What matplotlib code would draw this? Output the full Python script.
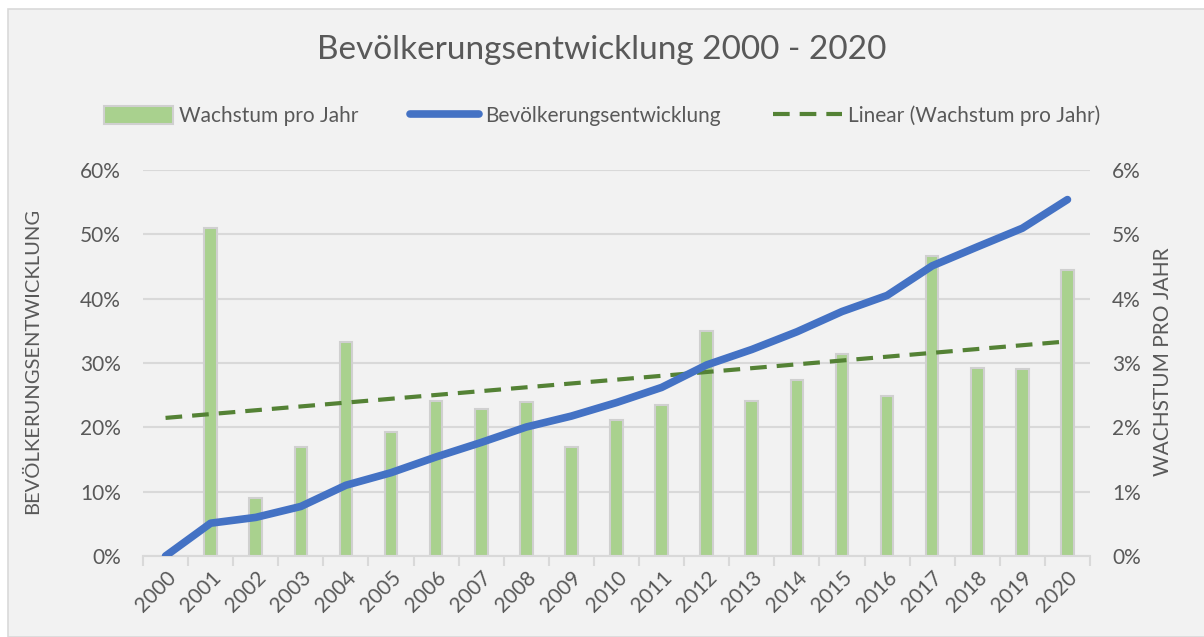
import numpy as np
import matplotlib
matplotlib.use("Agg")
import matplotlib.pyplot as plt
from matplotlib.patches import Rectangle, Patch
from matplotlib.lines import Line2D
from matplotlib.ticker import PercentFormatter, FixedLocator

plt.rcParams['font.family'] = ['Lato', 'DejaVu Sans']

# Daten
jahre = [str(j) for j in range(2000, 2021)]
wachstum = [np.nan, 5.10, 0.90, 1.69, 3.33, 1.93, 2.41, 2.29, 2.40, 1.69, 2.12,
            2.35, 3.49, 2.41, 2.74, 3.14, 2.49, 4.66, 2.93, 2.90, 4.45]
entwicklung = [0.0, 5.1, 6.0, 7.7, 11.0, 12.95, 15.4, 17.65, 20.05, 21.75, 23.85,
               26.2, 29.7, 32.1, 34.85, 38.0, 40.5, 45.1, 48.05, 50.95, 55.4]

grau = '#595959'
linie = '#d9d9d9'
strich = (0, (4, 2.4))

fig = plt.figure(figsize=(12.04, 6.37), dpi=100, facecolor='white')
fig.patches.append(Rectangle((8 / 1204, 0), 1.0, 1 - 9 / 637, transform=fig.transFigure,
                             facecolor='#f2f2f2', edgecolor=linie, lw=1.2, zorder=-10))

ax = fig.add_axes([143 / 1204, 1 - 556 / 637, (1090 - 143) / 1204, (556 - 170) / 637])
ax.set_facecolor('none')
x = np.arange(len(jahre))

# Balken (rechte Achse)
ax.bar(x, wachstum, width=0.28, color='#a9d18e', edgecolor='#d0d0d0', linewidth=1.5, zorder=2)

# lineare Trendlinie der Balken
w = np.array(wachstum)
ok = ~np.isnan(w)
m, b = np.polyfit(x[ok], w[ok], 1)
ax.plot(x, m * x + b, color='#548235', lw=3, ls=strich, zorder=3)

ax.set_ylim(0, 6)
ax.set_xlim(-0.5, len(jahre) - 0.5)
ax.grid(axis='y', color=linie, lw=1.5)
ax.set_axisbelow(True)

# Linie (linke Achse)
ax2 = ax.twinx()
ax2.set_facecolor('none')
ax2.plot(x, entwicklung, color='#4472c4', lw=5.5, solid_capstyle='round', zorder=5)
ax2.set_ylim(0, 60)

ax.yaxis.tick_right()
ax.yaxis.set_major_formatter(PercentFormatter(decimals=0))
ax.set_yticks(range(0, 7))
ax2.yaxis.tick_left()
ax2.yaxis.set_major_formatter(PercentFormatter(decimals=0))
ax2.set_yticks(range(0, 70, 10))

for a in (ax, ax2):
    for s in a.spines.values():
        s.set_visible(False)
    a.tick_params(axis='y', length=0, labelsize=15, labelcolor=grau, pad=16)
ax.spines['bottom'].set_visible(True)
ax.spines['bottom'].set_color(linie)
ax.spines['bottom'].set_linewidth(1.5)

ax.set_xticks(x)
ax.set_xticklabels(jahre, rotation=45, ha='right', rotation_mode='anchor')
ax.tick_params(axis='x', which='major', length=0, labelsize=15, labelcolor=grau, pad=8)
ax.xaxis.set_minor_locator(FixedLocator(np.arange(-0.5, len(jahre), 1.0)))
ax.tick_params(axis='x', which='minor', length=7, width=1.5, color=linie)

fig.text(0.5, 1 - 50 / 637, 'Bevölkerungsentwicklung 2000 - 2020', ha='center', va='center',
         fontsize=24, color=grau)
fig.text(33 / 1204, 1 - 361 / 637, 'BEVÖLKERUNGSENTWICKLUNG', rotation=90, ha='center',
         va='center', fontsize=14.5, color=grau)
fig.text(1163 / 1204, 1 - 362 / 637, 'WACHSTUM PRO JAHR', rotation=90, ha='center',
         va='center', fontsize=15, color=grau)

handles = [Patch(facecolor='#a9d18e', edgecolor='#d0d0d0', lw=1.5),
           Line2D([], [], color='#4472c4', lw=5.5, solid_capstyle='round'),
           Line2D([], [], color='#548235', lw=3, ls=strich)]
labels = ['Wachstum pro Jahr', 'Bevölkerungsentwicklung', 'Linear (Wachstum pro Jahr)']
fig.legend(handles, labels, loc='center', bbox_to_anchor=(0.5, 1 - 116 / 637), ncol=3,
           frameon=False, fontsize=15, labelcolor=grau, handlelength=3.3, handleheight=0.9,
           handletextpad=0.3, columnspacing=2.5)

fig.savefig('out.png', dpi=100, facecolor='white')
